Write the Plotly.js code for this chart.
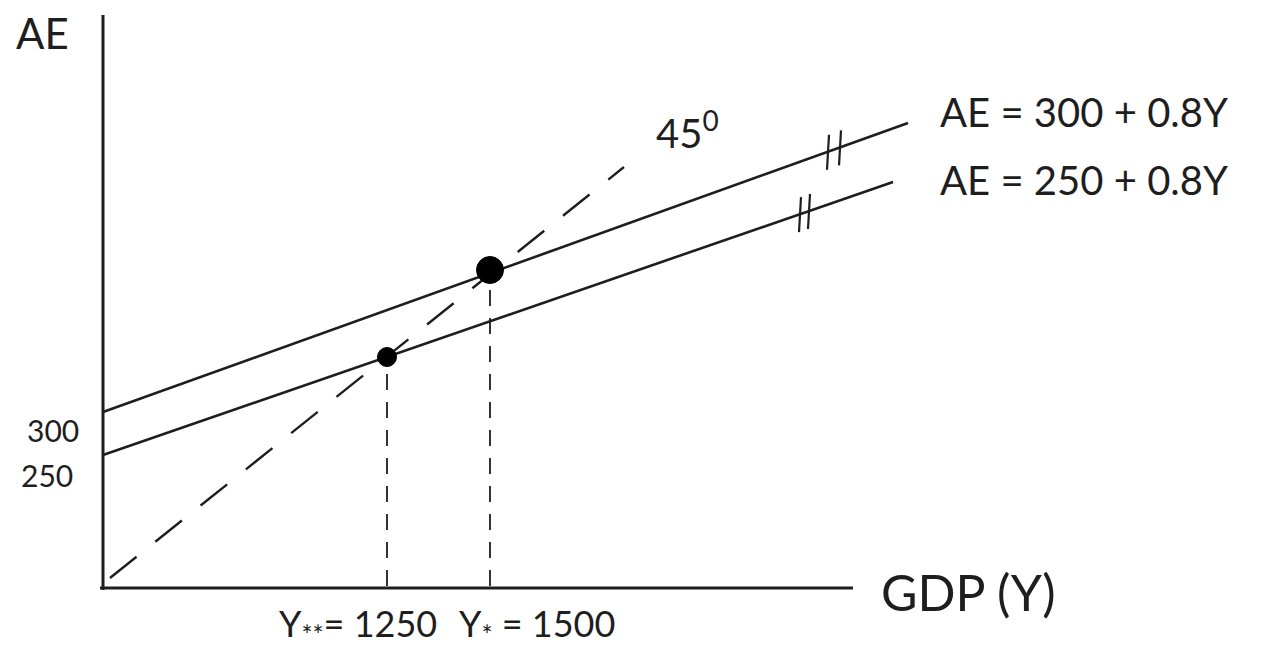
<!DOCTYPE html>
<html>
<head>
<meta charset="utf-8">
<script src="https://cdn.plot.ly/plotly-3.0.1.min.js"></script>
<style>html,body{margin:0;padding:0;background:#fff;}#chart{width:1279px;height:654px;}</style>
</head>
<body>
<div id="chart"></div>
<script>
// Sketch coordinates (schematic, not to scale, as in the hand drawing)
const yAxisX = [0, 0];
const yAxisY = [-2, 573];
const xAxisX = [-3, 750];
const xAxisY = [0, 0];

// AE = 300 + 0.8Y (upper) and AE = 250 + 0.8Y (lower), sketch coords
const aeHighX = [0, 805];
const aeHighY = [176, 465];
const aeLowX = [0, 790];
const aeLowY = [133, 406];

// 45 degree line, sketch coords
const fortyFiveX = [7, 521];
const fortyFiveY = [10, 421];

// Equilibria: Y** = 1250 (small dot), Y* = 1500 (big dot)
const eqLabels = ["Y<sub><span style='font-size:26px'>**</span></sub>= 1250", "Y<sub><span style='font-size:26px'>*</span></sub> = 1500"];
const eqX = [284, 387];
const eqY = [231, 318];

// Intercept labels
const interceptLabels = ["300", "250"];
const interceptY = [aeHighY[0], aeLowY[0]];

// Parallel hash marks (two strokes on each AE line)
const hashHighX = [725, 737];
const hashLowX = [697, 706];

const lineColor = "#1e1e1e";
const font = "Lato, 'Open Sans', sans-serif";

function lineAt(xs, ys, x) {
  return ys[0] + (ys[1] - ys[0]) * (x - xs[0]) / (xs[1] - xs[0]);
}
function hashTrace(hx, xs, ys) {
  const X = [], Y = [];
  hx.forEach(function (x) {
    const y = lineAt(xs, ys, x);
    X.push(x - 1, x + 1, null);
    Y.push(y - 18, y + 17, null);
  });
  return {x: X, y: Y, mode: "lines", line: {color: lineColor, width: 2.2}, hoverinfo: "skip"};
}

const traces = [
  {x: yAxisX, y: yAxisY, mode: "lines", line: {color: lineColor, width: 3}},
  {x: xAxisX, y: xAxisY, mode: "lines", line: {color: lineColor, width: 3}},
  {x: aeHighX, y: aeHighY, mode: "lines", line: {color: lineColor, width: 2.6}},
  {x: aeLowX, y: aeLowY, mode: "lines", line: {color: lineColor, width: 2.6}},
  {x: fortyFiveX, y: fortyFiveY, mode: "lines", line: {color: lineColor, width: 2.4, dash: "34px,24px"}},
  {x: [eqX[0], eqX[0]], y: [2, eqY[0]], mode: "lines", line: {color: lineColor, width: 1.8, dash: "16px,12px"}},
  {x: [eqX[1], eqX[1]], y: [2, eqY[1]], mode: "lines", line: {color: lineColor, width: 1.8, dash: "16px,12px"}},
  hashTrace(hashHighX, aeHighX, aeHighY),
  hashTrace(hashLowX, aeLowX, aeLowY),
  {x: eqX, y: eqY, mode: "markers", marker: {color: "#000000", opacity: 1, size: [19, 27], line: {width: 1, color: "#000000"}}}
];

const annFont = function (s) { return {family: font, size: s, color: lineColor}; };
const annotations = [
  {x: -61, y: 555, text: "AE", showarrow: false, font: annFont(42), xanchor: "center", yanchor: "middle"},
  {x: 835, y: 476, text: "AE = 300 + 0.8Y", showarrow: false, font: annFont(40), xanchor: "left", yanchor: "middle"},
  {x: 835, y: 408, text: "AE = 250 + 0.8Y", showarrow: false, font: annFont(40), xanchor: "left", yanchor: "middle"},
  {x: 551, y: 458, text: "45<sup>0</sup>", showarrow: false, font: annFont(40), xanchor: "left", yanchor: "middle"},
  {x: -50, y: interceptY[0] - 18, text: interceptLabels[0], showarrow: false, font: annFont(30), xanchor: "center", yanchor: "middle"},
  {x: -56, y: interceptY[1] - 20, text: interceptLabels[1], showarrow: false, font: annFont(30), xanchor: "center", yanchor: "middle"},
  {x: 174, y: -38, text: eqLabels[0], showarrow: false, font: annFont(36), xanchor: "left", yanchor: "middle"},
  {x: 354, y: -38, text: eqLabels[1], showarrow: false, font: annFont(36), xanchor: "left", yanchor: "middle"},
  {x: 776, y: -4, text: "GDP (Y)", showarrow: false, font: annFont(50), xanchor: "left", yanchor: "middle"}
];

const layout = {
  width: 1279, height: 654,
  margin: {l: 0, r: 0, t: 0, b: 0},
  paper_bgcolor: "#ffffff", plot_bgcolor: "#ffffff",
  showlegend: false,
  xaxis: {range: [-103, 1176], visible: false, fixedrange: true},
  yaxis: {range: [-66, 588], visible: false, fixedrange: true},
  annotations: annotations
};

Plotly.newPlot("chart", traces, layout, {staticPlot: true, displayModeBar: false});
</script>
</body>
</html>
